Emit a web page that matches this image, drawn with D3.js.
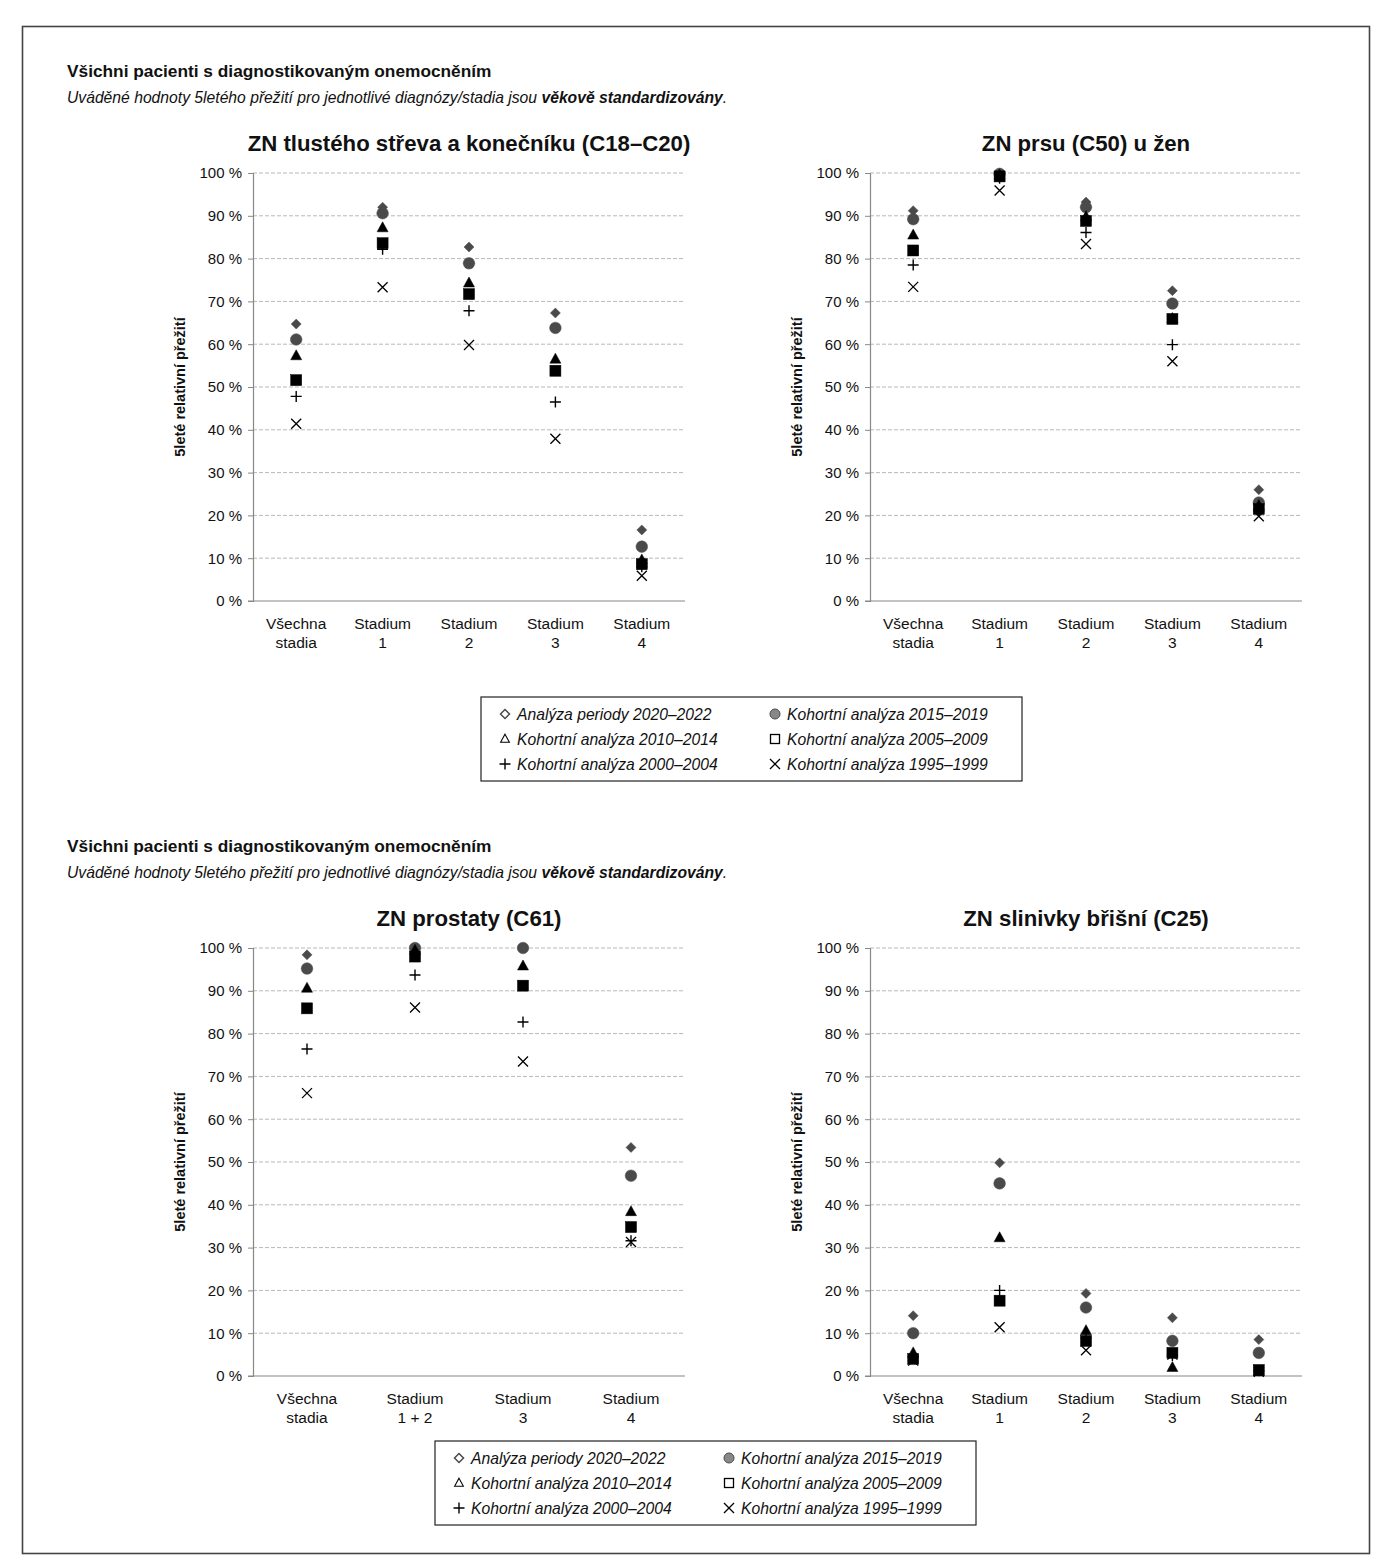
<!DOCTYPE html>
<html lang="cs">
<head>
<meta charset="UTF-8">
<title>5leté relativní přežití</title>
<script src="https://d3js.org/d3.v7.min.js"></script>
<style>
  body { margin: 0; background: #fff; }
  text { font-family: "Liberation Sans", Arial, sans-serif; fill: #111; }
</style>
</head>
<body>
<svg width="1384" height="1564"></svg>
<script>
// series (legend order = drawing order)
const seriesNames = [
  "Analýza periody 2020–2022", "Kohortní analýza 2015–2019",
  "Kohortní analýza 2010–2014", "Kohortní analýza 2005–2009",
  "Kohortní analýza 2000–2004", "Kohortní analýza 1995–1999"
];
const yTicks = [0, 10, 20, 30, 40, 50, 60, 70, 80, 90, 100];

// categories
const stageCats5 = [["Všechna", "stadia"], ["Stadium", "1"], ["Stadium", "2"], ["Stadium", "3"], ["Stadium", "4"]];
const stageCats4 = [["Všechna", "stadia"], ["Stadium", "1 + 2"], ["Stadium", "3"], ["Stadium", "4"]];

// values, one row per series, one column per category (%)
const crcValues = [
  [64.7, 92.0, 82.7, 67.3, 16.6],
  [61.1, 90.6, 78.9, 63.8, 12.7],
  [57.3, 87.2, 74.3, 56.5, 9.6],
  [51.6, 83.6, 71.7, 53.8, 8.6],
  [47.8, 82.2, 67.8, 46.5, 8.0],
  [41.4, 73.3, 59.8, 37.9, 5.9]
];
const breastValues = [
  [91.2, 100.0, 93.2, 72.5, 26.0],
  [89.2, 99.8, 92.0, 69.5, 23.0],
  [85.5, 99.5, 89.8, 66.0, 22.3],
  [81.9, 99.2, 88.8, 65.9, 21.5],
  [78.5, 98.8, 86.1, 59.9, 21.0],
  [73.4, 95.9, 83.4, 56.0, 19.8]
];
const prostateValues = [
  [98.4, 100.0, 100.0, 53.4],
  [95.2, 100.0, 100.0, 46.8],
  [90.6, 99.5, 95.8, 38.4],
  [85.9, 98.0, 91.2, 34.8],
  [76.4, 93.7, 82.7, 31.6],
  [66.1, 86.1, 73.5, 31.3]
];
const pancreasValues = [
  [14.1, 49.8, 19.3, 13.6, 8.5],
  [10.0, 45.0, 16.0, 8.2, 5.4],
  [5.4, 32.3, 10.6, 2.0, 1.0],
  [4.0, 17.6, 8.2, 5.4, 1.4],
  [4.4, 20.0, 8.9, 4.8, 1.2],
  [3.6, 11.4, 6.0, 5.0, 1.0]
];

const panels = [
  { title: "ZN tlustého střeva a konečníku (C18–C20)", cats: stageCats5, values: crcValues, x0: 253, y0: 173 },
  { title: "ZN prsu (C50) u žen", cats: stageCats5, values: breastValues, x0: 870, y0: 173 },
  { title: "ZN prostaty (C61)", cats: stageCats4, values: prostateValues, x0: 253, y0: 948 },
  { title: "ZN slinivky břišní (C25)", cats: stageCats5, values: pancreasValues, x0: 870, y0: 948 }
];

const W = 432, H = 428;
const svg = d3.select("svg");

// outer frame
svg.append("rect").attr("x", 22.5).attr("y", 26.5).attr("width", 1347).attr("height", 1527)
  .attr("fill", "none").attr("stroke", "#444").attr("stroke-width", 1.6);

// section headers
function header(y) {
  svg.append("text").attr("x", 67).attr("y", y).attr("font-size", 17.3).attr("font-weight", "bold")
    .text("Všichni pacienti s diagnostikovaným onemocněním");
  const t = svg.append("text").attr("x", 67).attr("y", y + 26).attr("font-size", 15.7).attr("font-style", "italic");
  t.append("tspan").text("Uváděné hodnoty 5letého přežití pro jednotlivé diagnózy/stadia jsou ");
  t.append("tspan").attr("font-weight", "bold").text("věkově standardizovány");
  t.append("tspan").text(".");
}
header(77);
header(852);

// marker drawing
function marker(sel, i, filled) {
  const dark = "#4a4a4a";
  if (i === 0) {
    const r = filled ? 5 : 4.5;
    sel.append("path").attr("d", `M0,${-r}L${r},0L0,${r}L${-r},0Z`)
      .attr("fill", filled ? dark : "#fff").attr("stroke", dark).attr("stroke-width", filled ? 0.5 : 1.5);
  } else if (i === 1) {
    sel.append("circle").attr("r", filled ? 5.8 : 5)
      .attr("fill", filled ? dark : "#888").attr("stroke", dark).attr("stroke-width", filled ? 0.5 : 1);
  } else if (i === 2) {
    sel.append("path").attr("d", "M0,-6L5.5,4L-5.5,4Z")
      .attr("fill", filled ? "#000" : "#fff").attr("stroke", "#000").attr("stroke-width", filled ? 0.5 : 1.3)
      .attr("transform", filled ? null : "scale(0.8)");
  } else if (i === 3) {
    const s = filled ? 11 : 9;
    sel.append("rect").attr("x", -s / 2).attr("y", -s / 2).attr("width", s).attr("height", s)
      .attr("fill", filled ? "#000" : "#fff").attr("stroke", "#000").attr("stroke-width", filled ? 0.5 : 1.3);
  } else if (i === 4) {
    sel.append("path").attr("d", "M-5.5,0H5.5M0,-5.5V5.5").attr("stroke", "#000").attr("stroke-width", 1.4);
  } else {
    sel.append("path").attr("d", "M-5,-5L5,5M-5,5L5,-5").attr("stroke", "#000").attr("stroke-width", 1.3);
  }
}

panels.forEach(p => {
  const g = svg.append("g").attr("transform", `translate(${p.x0},${p.y0})`);
  const x = d3.scaleBand().domain(d3.range(p.cats.length)).range([0, W]);
  const y = d3.scaleLinear().domain([0, 100]).range([H, 0]);

  // title
  g.append("text").attr("x", W / 2).attr("y", -22).attr("text-anchor", "middle")
    .attr("font-size", 22.2).attr("font-weight", "bold").text(p.title);

  // grid
  g.append("g").selectAll("line").data(yTicks.filter(d => d > 0)).enter().append("line")
    .attr("x1", 0).attr("x2", W).attr("y1", d => y(d)).attr("y2", d => y(d))
    .attr("stroke", "#b8b8b8").attr("stroke-dasharray", "4,2").attr("stroke-width", 1);

  // y axis
  const ya = g.append("g").call(d3.axisLeft(y).tickValues(yTicks).tickSize(5).tickPadding(6).tickFormat(d => d + " %"));
  ya.select(".domain").attr("stroke", "#888").attr("stroke-width", 1.2);
  ya.selectAll(".tick line").attr("stroke", "#888");
  ya.selectAll(".tick text").attr("font-size", 15).attr("font-family", "'Liberation Sans', Arial, sans-serif").attr("fill", "#111");

  // x baseline
  g.append("line").attr("x1", -5).attr("x2", W).attr("y1", H).attr("y2", H).attr("stroke", "#888").attr("stroke-width", 1.2);

  // x labels
  p.cats.forEach((c, ci) => {
    const t = g.append("text").attr("x", x(ci) + x.bandwidth() / 2).attr("y", H + 28)
      .attr("text-anchor", "middle").attr("font-size", 15.5);
    t.append("tspan").attr("x", x(ci) + x.bandwidth() / 2).text(c[0]);
    t.append("tspan").attr("x", x(ci) + x.bandwidth() / 2).attr("dy", 19).text(c[1]);
  });

  // y label
  g.append("text").attr("transform", `translate(-68,${H / 2}) rotate(-90)`).attr("text-anchor", "middle")
    .attr("font-size", 14.5).attr("font-weight", "bold").text("5leté relativní přežití");

  // points
  p.values.forEach((row, si) => {
    row.forEach((v, ci) => {
      const m = g.append("g").attr("transform", `translate(${x(ci) + x.bandwidth() / 2},${y(v)})`);
      marker(m, si, true);
    });
  });
});

// legends
function legend(x0, y0) {
  const w = 541, h = 84;
  svg.append("rect").attr("x", x0).attr("y", y0).attr("width", w).attr("height", h)
    .attr("fill", "#fff").attr("stroke", "#222").attr("stroke-width", 1.2);
  seriesNames.forEach((name, i) => {
    const col = i % 2, row = Math.floor(i / 2);
    const mx = x0 + 24 + col * 270, my = y0 + 17 + row * 25;
    const m = svg.append("g").attr("transform", `translate(${mx},${my})`);
    marker(m, i, false);
    svg.append("text").attr("x", mx + 12).attr("y", my + 5.5).attr("font-size", 15.7)
      .attr("font-style", "italic").text(name);
  });
}
legend(481, 697);
legend(435, 1441);
</script>
</body>
</html>
